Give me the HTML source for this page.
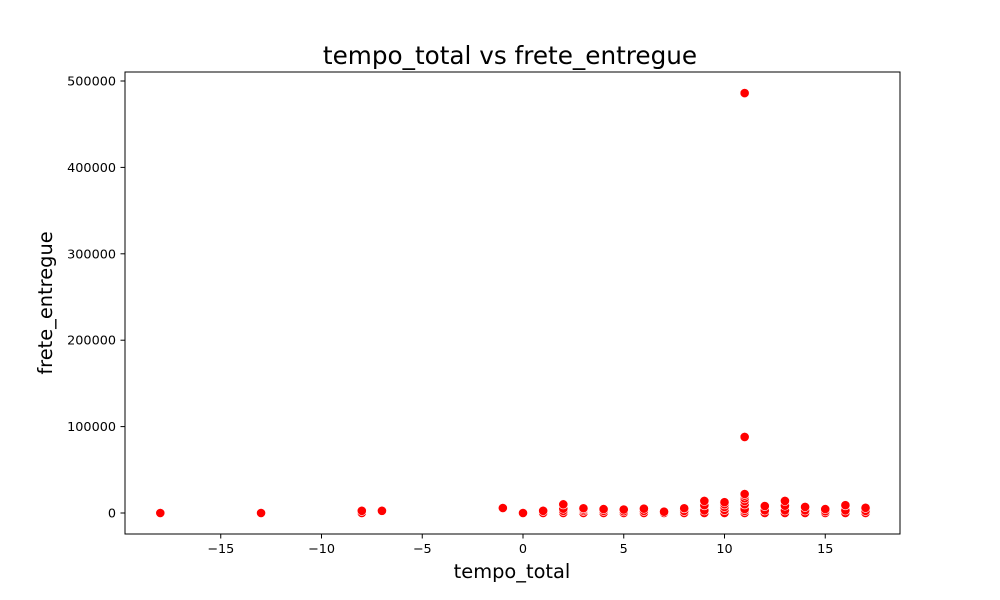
<!DOCTYPE html>
<html><head><meta charset="utf-8"><style>
body{margin:0;background:#fff}
svg{display:block;font-family:"DejaVu Sans","Liberation Sans",sans-serif}
</style></head><body>
<svg id="chart" width="1000" height="600">
<rect width="1000" height="600" fill="#fff"/>
<text x="510" y="64" text-anchor="middle" font-size="24.7">tempo_total vs frete_entregue</text>
<text x="512" y="578" text-anchor="middle" font-size="19.4">tempo_total</text>
<text transform="translate(52,303) rotate(-90)" text-anchor="middle" font-size="19.4">frete_entregue</text>
<g id="xt"></g>
<g id="yt"></g>
<g id="pts"></g>
<rect x="125" y="72" width="775" height="462" fill="none" stroke="#000" stroke-width="1"/>
</svg>
<script>
const xs = [-18,-13,-8,-8,-7,-1,0,1,1,2,2,2,2,3,3,3,3,4,4,4,5,5,5,6,6,6,7,7,8,8,8,9,9,9,9,10,10,10,10,10,11,11,11,11,11,11,11,11,11,11,12,12,12,13,13,13,13,14,14,14,15,15,15,16,16,16,17,17,17];
const ys = [0,0,0,2500,2500,5800,0,0,2500,0,2500,5000,10000,0,2500,4000,5500,0,2500,4500,0,2000,4000,0,2500,5000,0,1500,0,2500,5500,0,3000,9000,14000,0,3500,7000,10000,12500,0,2500,4500,10000,14000,17000,20000,22000,88000,486000,0,3000,8000,0,3000,8500,14000,0,3000,7000,0,2000,4500,0,3000,9000,0,2500,6000];
const xTicks = [-15,-10,-5,0,5,10,15];
const yTicks = [0,100000,200000,300000,400000,500000];
const NS='http://www.w3.org/2000/svg';
const X = v => 523 + (v)*20.15;
const Y = v => 513 - v*0.000864;
const xt=document.getElementById('xt'), yt=document.getElementById('yt'), pts=document.getElementById('pts');
function mk(tag, attrs, parent){const e=document.createElementNS(NS,tag);for(const k in attrs)e.setAttribute(k,attrs[k]);parent.appendChild(e);return e;}
xTicks.forEach(t=>{
  const l=mk('line',{x1:X(t),x2:X(t),y1:534,y2:538.5,stroke:'#000'},xt);
  
  
  const s=mk('text',{x:X(t),y:553,'text-anchor':'middle','font-size':'12.8'},xt);
  s.textContent=(t<0?'\u2212'+(-t):t);
  
  
});
yTicks.forEach(t=>{
  const l=mk('line',{x1:120.5,x2:125,y1:Y(t),y2:Y(t),stroke:'#000'},yt);
  
  
  const s=mk('text',{x:116,y:Y(t)+4.5,'text-anchor':'end','font-size':'12.8'},yt);
  s.textContent=t;
  
  
});
xs.forEach((x,i)=>{
  const c=mk('circle',{cx:X(x),cy:Y(ys[i]),r:4.6,fill:'#ff0000',stroke:'#fff','stroke-width':0.6},pts);
  
  
});
</script>
</body></html>
